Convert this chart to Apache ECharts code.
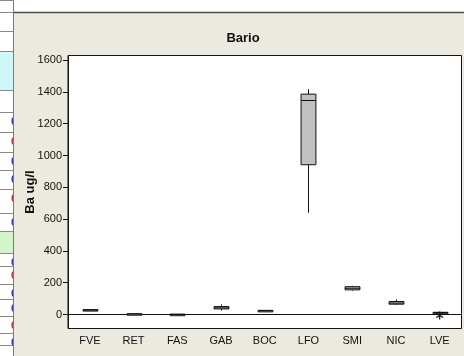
<!DOCTYPE html>
<html>
<head>
<meta charset="utf-8">
<script src="https://cdn.jsdelivr.net/npm/echarts@6/dist/echarts.min.js"></script>
<style>
  html, body { margin: 0; padding: 0; background: #ffffff; }
  #chart { width: 464px; height: 356px; }
</style>
</head>
<body>
<div id="chart"></div>
<script>
// Barium concentration by site (ug/l): five-number summaries per site
var sites    = ['FVE', 'RET', 'FAS', 'GAB', 'BOC', 'LFO', 'SMI', 'NIC', 'LVE'];
var lowWhisk = [22,    0,    -2,    25,    20,    640,   150,   60,    8];
var q1       = [25,    2,    0,     35,    22,    942,   155,   65,    10];
var median   = [28,    3,    1,     42,    24,    1346,  165,   72,    12];
var q3       = [31,    5,    2,     50,    26,    1386,  175,   82,    14];
var highWhisk= [34,    8,    3,     63,    28,    1417,  180,   94,    16];
// outliers: [site index, value]
var outliers = [[8, -6]];
var yTicks   = [0, 200, 400, 600, 800, 1000, 1200, 1400, 1600];

var boxData = sites.map(function (s, i) {
  return [i, lowWhisk[i], q1[i], median[i], q3[i], highWhisk[i]];
});

var chart = echarts.init(document.getElementById('chart'), null, { renderer: 'canvas' });

// spreadsheet cells peeking out at the left edge
var cellLines = [12, 31, 51, 90, 112, 132, 152, 170, 189, 213, 231, 253, 266, 284, 299, 316, 333, 345];
var sideGraphics = [];
sideGraphics.push({ type: 'rect', shape: { x: 0, y: 51, width: 13, height: 39 }, style: { fill: '#cff6f8' }, z: 1 });
sideGraphics.push({ type: 'rect', shape: { x: 0, y: 231, width: 13, height: 22 }, style: { fill: '#d4f4cc' }, z: 1 });
cellLines.forEach(function (y) {
  sideGraphics.push({ type: 'line', shape: { x1: 0, y1: y + 0.5, x2: 13, y2: y + 0.5 }, style: { stroke: '#8a8a8a', lineWidth: 1 }, z: 2 });
});
[112, 132, 152, 170, 189, 213, 253, 266, 284, 299, 316, 333].forEach(function (y, k) {
  sideGraphics.push({
    type: 'text', x: 17, y: y + 10,
    style: { text: '0', fill: k % 3 === 1 ? '#c0304a' : '#3040c0', font: 'bold 11px "Liberation Sans"', align: 'right', verticalAlign: 'middle' },
    z: 2
  });
});

chart.setOption({
  animation: false,
  backgroundColor: '#ffffff',
  graphic: sideGraphics.concat([
    { type: 'rect', shape: { x: 14, y: 12, width: 450, height: 344 }, style: { fill: '#ece9df' }, z: 3 },
    { type: 'line', shape: { x1: 14, y1: 12.5, x2: 464, y2: 12.5 }, style: { stroke: '#4a4a4a', lineWidth: 1.5 }, z: 4 },
    { type: 'line', shape: { x1: 13.5, y1: 0, x2: 13.5, y2: 356 }, style: { stroke: '#7a7a7a', lineWidth: 1 }, z: 4 },
    { type: 'line', shape: { x1: 0, y1: 0.5, x2: 14, y2: 0.5 }, style: { stroke: '#8a8a8a', lineWidth: 1 }, z: 4 },
    {
      type: 'text', x: 243, y: 38, z: 5,
      style: { text: 'Bario', font: 'bold 13px "Liberation Sans"', fill: '#111', align: 'center', verticalAlign: 'middle' }
    }
  ]),
  grid: {
    left: 68, right: 2.5, top: 55.5, bottom: 27.5,
    show: true, backgroundColor: '#ffffff', borderColor: '#111111', borderWidth: 1, z: 5
  },
  xAxis: {
    type: 'category',
    data: sites,
    boundaryGap: true,
    axisLine: { lineStyle: { color: '#111', width: 1 } },
    axisTick: { alignWithLabel: true, length: 4, lineStyle: { color: '#111' } },
    axisLabel: { color: '#111', fontFamily: 'Liberation Sans', fontSize: 11, margin: 7 },
    splitLine: { show: false },
    z: 6
  },
  yAxis: {
    type: 'value',
    min: -88, max: 1629,
    name: 'Ba ug/l',
    nameLocation: 'middle',
    nameGap: 31,
    nameRotate: 90,
    nameMoveOverlap: false,
    nameTextStyle: { color: '#111', fontFamily: 'Liberation Sans', fontWeight: 'bold', fontSize: 13 },
    axisLine: { show: true, lineStyle: { color: '#111', width: 1 } },
    axisTick: { show: true, length: 5, lineStyle: { color: '#111' }, customValues: yTicks },
    axisLabel: {
      color: '#111', fontFamily: 'Liberation Sans', fontSize: 11, margin: 6, customValues: yTicks,
      formatter: function (v) { return String(v); }
    },
    splitLine: { show: false },
    z: 6
  },
  series: [
    {
      type: 'custom',
      name: 'Ba',
      data: boxData,
      encode: { x: 0, y: [1, 2, 3, 4, 5] },
      z: 10,
      renderItem: function (params, api) {
        var idx = api.value(0);
        var lo = api.coord([idx, api.value(1)]);
        var b1 = api.coord([idx, api.value(2)]);
        var md = api.coord([idx, api.value(3)]);
        var b3 = api.coord([idx, api.value(4)]);
        var hi = api.coord([idx, api.value(5)]);
        var band = api.size([1, 0])[0];
        var w = band * 0.34;
        var cx = Math.round(lo[0]) + 0.5;
        var ls = { stroke: '#111', lineWidth: 1 };
        return {
          type: 'group',
          children: [
            { type: 'line', shape: { x1: cx, y1: hi[1], x2: cx, y2: b3[1] }, style: ls },
            { type: 'line', shape: { x1: cx, y1: b1[1], x2: cx, y2: lo[1] }, style: ls },
            { type: 'rect', shape: { x: cx - w / 2, y: b3[1], width: w, height: Math.max(b1[1] - b3[1], 1.5) },
              style: { fill: '#c0c0c0', stroke: '#111', lineWidth: 1 } },
            { type: 'line', shape: { x1: cx - w / 2, y1: md[1], x2: cx + w / 2, y2: md[1] }, style: ls }
          ]
        };
      }
    },
    {
      type: 'custom',
      name: 'Outlier',
      data: outliers,
      encode: { x: 0, y: 1 },
      z: 11,
      renderItem: function (params, api) {
        var p = api.coord([api.value(0), api.value(1)]);
        var r = 4;
        var st = { stroke: '#111', lineWidth: 1.3 };
        var kids = [];
        for (var k = 0; k < 3; k++) {
          var a = Math.PI / 2 + k * Math.PI / 3;
          kids.push({ type: 'line', shape: { x1: p[0] - r * Math.cos(a), y1: p[1] - r * Math.sin(a), x2: p[0] + r * Math.cos(a), y2: p[1] + r * Math.sin(a) }, style: st });
        }
        return { type: 'group', children: kids };
      }
    }
  ]
});
</script>
</body>
</html>
